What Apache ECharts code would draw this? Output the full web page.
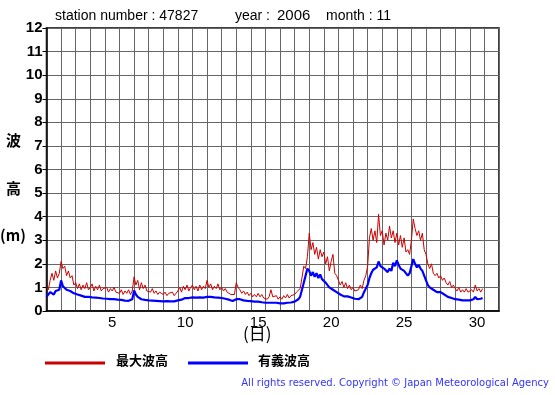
<!DOCTYPE html>
<html><head><meta charset="utf-8">
<script src="https://cdn.jsdelivr.net/npm/echarts@6/dist/echarts.min.js"></script>
<style>html,body{margin:0;padding:0;background:#fff;}#c{width:555px;height:395px;}</style>
</head><body><div id="c"></div>
<script>
// 3-hourly values, 8 per day, starting Nov 1 00:00
const stepsPerDay = 8;
const maxWave = [
 1.0,0.9,1.3,1.6,1.3,1.7,1.4,1.6,
 2.1,1.8,1.9,1.5,1.7,1.4,1.5,1.1,
 1.2,0.95,1.15,0.9,1.1,0.95,1.2,0.9,
 1.0,1.15,0.85,1.05,0.9,1.1,0.85,0.95,
 0.9,1.0,0.8,0.95,0.85,1.0,0.8,0.85,
 0.75,0.9,0.7,0.85,0.75,0.9,0.7,0.85,
 1.45,1.1,1.3,0.9,1.2,0.95,1.1,0.85,
 0.9,0.8,0.95,0.75,0.85,0.7,0.8,0.75,
 0.7,0.8,0.65,0.75,0.7,0.8,0.65,0.75,
 0.85,1.0,0.8,1.05,0.9,1.1,0.85,1.0,
 1.1,0.9,1.05,0.85,1.1,0.9,1.05,0.95,
 1.3,1.0,1.15,0.9,1.05,0.95,1.15,0.9,
 1.0,0.85,0.95,0.8,0.85,0.7,0.75,0.7,
 1.2,1.0,0.9,0.75,0.85,0.7,0.8,0.65,
 0.75,0.6,0.7,0.6,0.75,0.6,0.7,0.55,
 0.6,0.5,0.6,0.9,0.6,0.55,0.65,0.5,
 0.6,0.5,0.65,0.55,0.7,0.55,0.65,0.6,
 0.7,0.8,0.75,0.95,1.4,1.9,1.8,2.3,
 3.3,2.6,2.9,2.4,2.7,2.2,2.6,2.3,
 2.5,2.0,2.3,1.7,2.1,2.4,1.6,1.5,
 1.3,1.1,1.25,1.0,1.2,0.95,1.1,0.9,
 1.0,0.85,0.8,0.9,1.1,0.95,1.3,1.5,
 1.9,3.1,3.5,3.0,3.4,2.9,4.1,3.2,
 3.4,2.8,3.3,3.0,3.6,3.1,3.4,2.9,
 3.3,2.8,3.2,2.7,3.1,2.5,2.6,2.4,
 3.0,3.9,3.5,3.2,3.4,3.0,3.3,2.6,
 2.4,2.0,1.8,2.0,1.6,1.5,1.6,1.4,
 1.5,1.3,1.4,1.2,1.1,1.25,1.0,1.1,
 0.95,0.85,1.0,0.8,0.9,0.8,0.95,0.8,
 0.85,0.9,0.8,1.1,0.85,0.95,0.8,0.95
];
const sigWave = [
 0.6,0.65,0.8,0.75,0.7,0.85,0.8,0.9,
 1.3,1.05,1.0,0.9,0.95,0.85,0.85,0.75,
 0.75,0.7,0.7,0.65,0.65,0.6,0.62,0.6,
 0.6,0.58,0.55,0.57,0.55,0.55,0.52,0.53,
 0.5,0.52,0.5,0.5,0.48,0.5,0.47,0.48,
 0.45,0.47,0.45,0.44,0.45,0.43,0.45,0.5,
 0.87,0.7,0.6,0.55,0.5,0.48,0.47,0.45,
 0.45,0.43,0.44,0.42,0.43,0.42,0.42,0.41,
 0.41,0.4,0.42,0.4,0.41,0.4,0.41,0.42,
 0.45,0.5,0.48,0.52,0.55,0.53,0.55,0.57,
 0.58,0.55,0.57,0.55,0.58,0.56,0.57,0.55,
 0.6,0.58,0.6,0.57,0.58,0.56,0.57,0.55,
 0.55,0.53,0.52,0.5,0.48,0.45,0.42,0.4,
 0.5,0.55,0.5,0.45,0.45,0.42,0.43,0.4,
 0.42,0.4,0.4,0.38,0.4,0.38,0.37,0.35,
 0.35,0.33,0.35,0.4,0.35,0.33,0.35,0.32,
 0.32,0.3,0.32,0.33,0.35,0.33,0.36,0.35,
 0.4,0.45,0.5,0.6,0.9,1.2,1.5,1.8,
 1.7,1.5,1.65,1.45,1.6,1.4,1.55,1.35,
 1.3,1.2,1.1,1.0,1.05,0.9,0.85,0.8,
 0.75,0.7,0.65,0.62,0.6,0.62,0.58,0.57,
 0.55,0.52,0.5,0.5,0.55,0.6,0.8,0.95,
 1.1,1.4,1.6,1.75,1.7,1.85,2.1,1.9,
 1.9,1.8,1.75,1.65,1.8,1.7,2.05,1.9,
 2.15,1.95,1.8,1.75,1.7,1.75,1.5,1.6,
 1.9,2.2,2.0,1.85,1.95,1.8,1.7,1.5,
 1.3,1.1,1.0,0.95,0.9,0.85,0.8,0.85,
 0.8,0.75,0.7,0.65,0.6,0.6,0.55,0.55,
 0.5,0.5,0.48,0.47,0.45,0.48,0.45,0.47,
 0.45,0.47,0.5,0.6,0.5,0.5,0.52,0.55
];
const dayLabels = [5,10,15,20,25,30];
const seriesNames = ['最大波高','有義波高'];

const toPairs = arr => arr.map((v,i)=>[i/stepsPerDay, v]);
const chart = echarts.init(document.getElementById('c'), null, {renderer:'canvas'});
const gridCol = '#666';
chart.setOption({
  animation:false,
  backgroundColor:'#fff',
  grid:{left:46.5,right:56,top:28,bottom:84,show:true,borderColor:'#000',borderWidth:1.5,backgroundColor:'transparent'},
  xAxis:[
    {type:'value',min:0,max:31,interval:1,
     axisLine:{show:true,lineStyle:{color:'#000',width:1.5}},axisTick:{show:false},axisLabel:{show:false},
     splitLine:{show:true,lineStyle:{color:gridCol,width:1}}},
    {type:'value',min:0,max:31,interval:0.5,position:'bottom',
     axisLine:{show:false},axisTick:{show:false},splitLine:{show:false},
     axisLabel:{show:true,margin:4,color:'#000',fontFamily:'Liberation Sans, Arial, sans-serif',fontSize:15,
       formatter:v=>{const d=v+0.5; return dayLabels.indexOf(d)>=0 && (v%1)!==0 ? String(d) : '';}}}
  ],
  yAxis:{type:'value',min:0,max:12,interval:1,
    axisLine:{show:true,lineStyle:{color:'#000',width:1.5}},
    axisTick:{show:true,length:4,lineStyle:{color:'#000'}},
    axisLabel:{color:'#000',fontWeight:'bold',fontSize:15,margin:4,fontFamily:'Liberation Sans, Arial, sans-serif'},
    splitLine:{show:true,lineStyle:{color:gridCol,width:1}}},
  series:[
    {name:seriesNames[0],type:'line',xAxisIndex:0,data:toPairs(maxWave),showSymbol:false,symbol:'none',
     lineStyle:{color:'#cc0000',width:1},itemStyle:{color:'#cc0000'}},
    {name:seriesNames[1],type:'line',xAxisIndex:0,data:toPairs(sigWave),showSymbol:false,symbol:'none',
     lineStyle:{color:'#0000ff',width:2.2},itemStyle:{color:'#0000ff'}}
  ],
  graphic:[
    {type:'text',left:55,top:9,style:{text:'station number : 47827',font:'14px "Liberation Sans", Arial, sans-serif',fill:'#000'}},
    {type:'text',left:235,top:9,style:{text:'year : ',font:'14px "Liberation Sans", Arial, sans-serif',fill:'#000'}},
    {type:'text',left:277,top:8,style:{text:'2006',font:'15px "Liberation Sans", Arial, sans-serif',fill:'#000'}},
    {type:'text',left:326,top:9,style:{text:'month : 11',font:'14px "Liberation Sans", Arial, sans-serif',fill:'#000'}},
    {type:'text',left:6,top:133,style:{text:'波',font:'bold 15px "Noto Sans CJK JP", sans-serif',fill:'#000'}},
    {type:'text',left:6,top:181,style:{text:'高',font:'bold 15px "Noto Sans CJK JP", sans-serif',fill:'#000'}},
    {type:'text',left:0,top:228,style:{text:'(m)',font:'bold 15px "Noto Sans CJK JP", sans-serif',fill:'#000'}},
    {type:'text',left:243,top:325,style:{text:'(日)',font:'17px "Noto Sans CJK JP", sans-serif',fill:'#000'}},
    {type:'line',shape:{x1:45,y1:363,x2:105,y2:363},style:{stroke:'#cc0000',lineWidth:3}},
    {type:'text',left:116,top:354,style:{text:seriesNames[0],font:'bold 13px "Noto Sans CJK JP", sans-serif',fill:'#000'}},
    {type:'line',shape:{x1:188,y1:363,x2:248,y2:363},style:{stroke:'#0000ff',lineWidth:3}},
    {type:'text',left:258,top:354,style:{text:seriesNames[1],font:'bold 13px "Noto Sans CJK JP", sans-serif',fill:'#000'}},
    {type:'text',right:6,top:378,style:{text:'All rights reserved. Copyright © Japan Meteorological Agency',font:'10px "DejaVu Sans", sans-serif',fill:'#3333ff'}}
  ]
});
</script></body></html>
